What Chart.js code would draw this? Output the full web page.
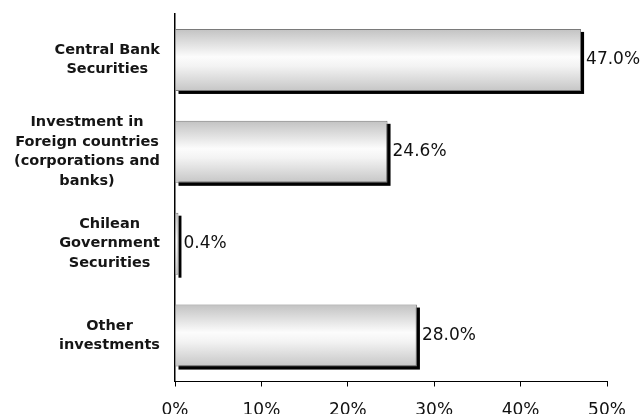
<!DOCTYPE html>
<html>
<head>
<meta charset="utf-8">
<script src="https://cdn.jsdelivr.net/npm/chart.js@4/dist/chart.umd.min.js"></script>
<style>
    html, body { margin: 0; padding: 0; background: #fff; overflow: hidden; }
</style>
</head>
<body>
<canvas id="chart" width="642" height="418"></canvas>
<script>
const categories = [
    ["Central Bank", "Securities"],
    ["Investment in", "Foreign countries", "(corporations and", "banks)"],
    ["Chilean", "Government", "Securities"],
    ["Other", "investments"]
];
const shares = [47.0, 24.6, 0.4, 28.0];
const xTicks = [0, 10, 20, 30, 40, 50];

const BAR_PCT = 0.675;

Chart.defaults.font.family = "DejaVu Sans";
Chart.defaults.color = "#111";

function barGradient(c) {
    const chart = c.chart;
    const ys = chart.scales.y;
    if (!ys || c.dataIndex === undefined) {
        return "#eeeeee";
    }
    const yc = ys.getPixelForValue(c.dataIndex);
    const h = ys.height / categories.length * BAR_PCT;
    if (!isFinite(yc) || !isFinite(h) || h <= 0) {
        return "#eeeeee";
    }
    const g = chart.ctx.createLinearGradient(0, yc - h / 2, 0, yc + h / 2);
    g.addColorStop(0, "#c2c2c2");
    g.addColorStop(0.45, "#fcfcfc");
    g.addColorStop(0.6, "#f3f3f3");
    g.addColorStop(1, "#c6c6c6");
    return g;
}

// black drop shadow under the bars, value labels, and the category labels
const barDecor = {
    id: "barDecor",
    beforeDatasetsDraw(chart) {
        const ctx = chart.ctx;
        ctx.save();
        ctx.fillStyle = "#000";
        chart.getDatasetMeta(0).data.forEach(function (bar) {
            const p = bar.getProps(["x", "y", "base", "height"], true);
            ctx.fillRect(Math.min(p.x, p.base) + 3, p.y - p.height / 2 + 3,
                Math.abs(p.x - p.base), p.height);
        });
        ctx.restore();
    },
    afterDatasetsDraw(chart) {
        const ctx = chart.ctx;
        ctx.save();
        ctx.font = "17px 'DejaVu Sans'";
        ctx.fillStyle = "#111";
        ctx.textAlign = "left";
        ctx.textBaseline = "middle";
        chart.getDatasetMeta(0).data.forEach(function (bar, i) {
            ctx.fillText(shares[i].toFixed(1) + "%", bar.x + 5, bar.y);
        });

        // category labels: each block right aligned, lines centred in the block
        const ys = chart.scales.y;
        const lineH = 19.4;
        ctx.font = "bold 14.5px 'DejaVu Sans'";
        ctx.fillStyle = "#151515";
        ctx.textAlign = "center";
        categories.forEach(function (lines, i) {
            const yc = ys.getPixelForValue(i);
            let w = 0;
            lines.forEach(function (l) {
                w = Math.max(w, ctx.measureText(l).width);
            });
            const cx = 160 - w / 2;
            lines.forEach(function (l, k) {
                ctx.fillText(l, cx, yc + (k - (lines.length - 1) / 2) * lineH);
            });
        });
        ctx.restore();
    }
};

new Chart(document.getElementById("chart"), {
    type: "bar",
    data: {
        labels: categories,
        datasets: [{
            data: shares,
            backgroundColor: barGradient,
            borderColor: "#7a7a7a",
            borderWidth: 1,
            barPercentage: BAR_PCT,
            categoryPercentage: 1
        }]
    },
    plugins: [barDecor],
    options: {
        indexAxis: "y",
        responsive: false,
        animation: false,
        layout: {
            padding: { top: 14, right: 35, left: 0, bottom: 0 }
        },
        plugins: {
            legend: { display: false },
            tooltip: { enabled: false },
            title: { display: false }
        },
        scales: {
            x: {
                min: xTicks[0],
                max: xTicks[xTicks.length - 1],
                afterBuildTicks: function (scale) {
                    scale.ticks = xTicks.map(function (v) { return { value: v }; });
                },
                afterFit: function (scale) {
                    scale.height = 36.5;
                },
                grid: {
                    display: true,
                    drawOnChartArea: false,
                    drawTicks: true,
                    tickLength: 5,
                    color: "#000",
                    lineWidth: 1
                },
                border: { display: true, color: "#000", width: 1 },
                ticks: {
                    padding: 14,
                    maxRotation: 0,
                    color: "#111",
                    font: { size: 17 },
                    callback: function (v) { return v + "%"; }
                }
            },
            y: {
                grid: { display: false },
                border: { display: true, color: "#000", width: 1.5 },
                ticks: { display: false },
                afterFit: function (scale) {
                    scale.width = 175;
                }
            }
        }
    }
});
</script>
</body>
</html>
